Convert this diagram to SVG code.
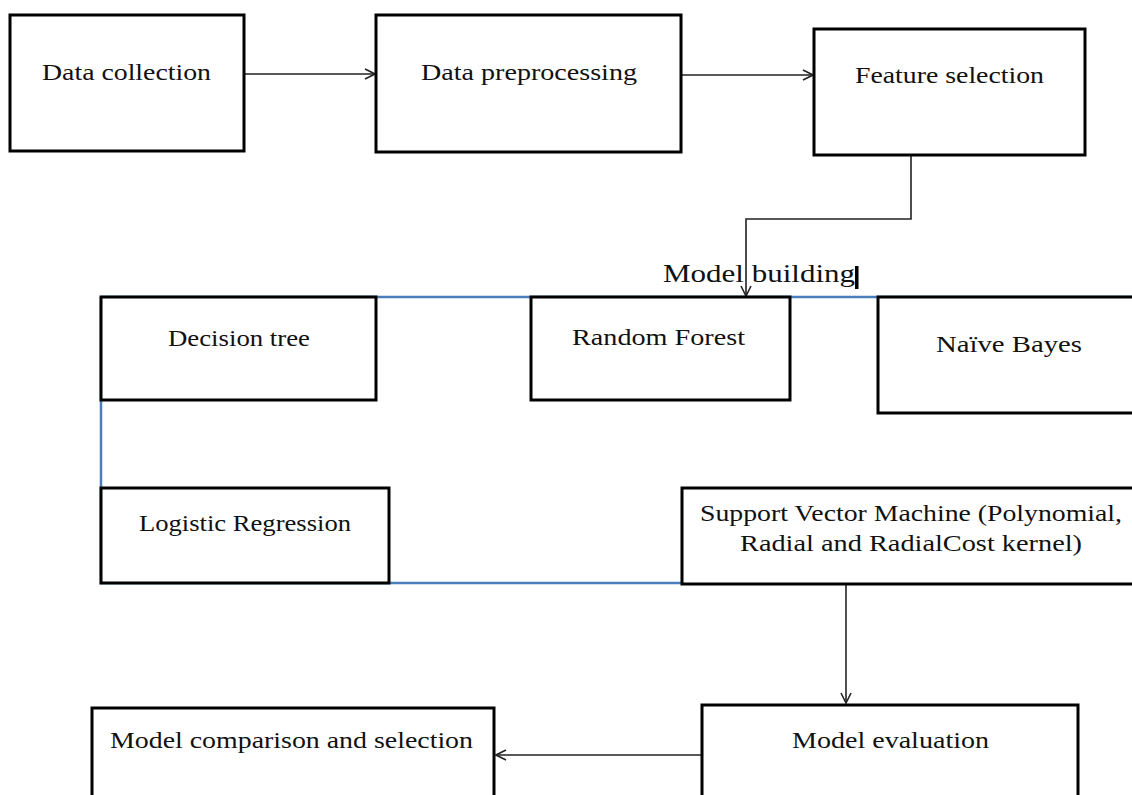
<svg xmlns="http://www.w3.org/2000/svg" width="1132" height="795" viewBox="0 0 1132 795">
<style>
.box{fill:#fff;stroke:#000;stroke-width:3}
.t{font-family:"Liberation Serif","Times New Roman",serif;font-size:24px;fill:#111}
.c{fill:none;stroke:#222;stroke-width:1.6}
.b{fill:none;stroke:#4a7ebb;stroke-width:2.5}
</style>
<defs>
<marker id="ah" viewBox="0 0 12 12" refX="11" refY="6" markerWidth="12" markerHeight="12" markerUnits="userSpaceOnUse" orient="auto">
<path d="M1,1 L11,6 L1,11" fill="none" stroke="#222" stroke-width="1.6"/>
</marker>
</defs>
<rect width="1132" height="795" fill="#fff"/>
<g id="connectors">
<path class="b" d="M101,297 H1140 M101,297 V583 H1140"/>
<path class="c" d="M245,74 H375" marker-end="url(#ah)"/>
<path class="c" d="M681,75 H813" marker-end="url(#ah)"/>
<path class="c" d="M911,156 V219 H746 V296" marker-end="url(#ah)"/>
<path class="c" d="M846,585 V703" marker-end="url(#ah)"/>
<path class="c" d="M702,755 H496" marker-end="url(#ah)"/>
</g>
<g id="data-collection"><rect class="box" x="10" y="15" width="234" height="136"/><text class="t" x="42" y="80" textLength="169" lengthAdjust="spacingAndGlyphs">Data collection</text></g>
<g id="data-preprocessing"><rect class="box" x="376" y="15" width="305" height="137"/><text class="t" x="421" y="80" textLength="216" lengthAdjust="spacingAndGlyphs">Data preprocessing</text></g>
<g id="feature-selection"><rect class="box" x="814" y="29" width="271" height="126"/><text class="t" x="855" y="83" textLength="189" lengthAdjust="spacingAndGlyphs">Feature selection</text></g>
<g id="model-building"><text class="t" x="663" y="282" style="font-size:26px" textLength="192" lengthAdjust="spacingAndGlyphs">Model building</text><rect x="855" y="266" width="3.5" height="23" fill="#000"/></g>
<g id="decision-tree"><rect class="box" x="101" y="297" width="275" height="103"/><text class="t" x="168" y="346" textLength="142" lengthAdjust="spacingAndGlyphs">Decision tree</text></g>
<g id="random-forest"><rect class="box" x="531" y="297" width="259" height="103"/><text class="t" x="572" y="345" textLength="173" lengthAdjust="spacingAndGlyphs">Random  Forest</text></g>
<g id="naive-bayes"><rect class="box" x="878" y="297" width="260" height="116"/><text class="t" x="936" y="352" textLength="146" lengthAdjust="spacingAndGlyphs">Naïve Bayes</text></g>
<g id="logistic-regression"><rect class="box" x="101" y="488" width="288" height="95"/><text class="t" x="139" y="531" textLength="212" lengthAdjust="spacingAndGlyphs">Logistic Regression</text></g>
<g id="svm"><rect class="box" x="682" y="488" width="456" height="96"/><text class="t" x="700" y="521" textLength="422" lengthAdjust="spacingAndGlyphs">Support Vector Machine (Polynomial,</text><text class="t" x="740" y="551" textLength="342" lengthAdjust="spacingAndGlyphs">Radial and RadialCost kernel)</text></g>
<g id="model-evaluation"><rect class="box" x="702" y="705" width="376" height="100"/><text class="t" x="792" y="748" textLength="197" lengthAdjust="spacingAndGlyphs">Model evaluation</text></g>
<g id="model-comparison"><rect class="box" x="92" y="708" width="402" height="100"/><text class="t" x="110" y="748" textLength="363" lengthAdjust="spacingAndGlyphs">Model comparison and selection</text></g>
</svg>
